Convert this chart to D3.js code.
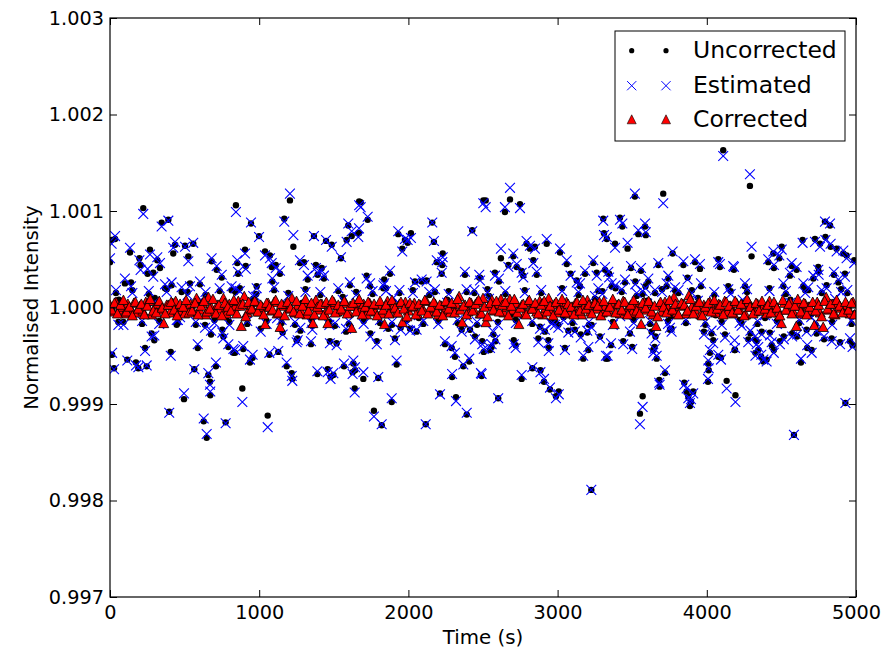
<!DOCTYPE html>
<html><head><meta charset="utf-8">
<script src="https://cdn.jsdelivr.net/npm/d3@7"></script>
<style>body{margin:0;background:#fff} text{font-family:"DejaVu Sans",sans-serif;fill:#000}</style>
</head><body><svg id="c" width="893" height="652"></svg>
<script>
// ---------- DATA ----------
const xTicks = [0, 1000, 2000, 3000, 4000, 5000];
const yTicks = [0.997, 0.998, 0.999, 1.000, 1.001, 1.002, 1.003];
const seriesNames = ["Uncorrected", "Estimated", "Corrected"];

// sample times (s) shared by the uncorrected and estimated series
const sampleTimes = [
 223,346,391,11,34,134,268,424,436,503, 558,525,197,205,317,335,252,290,681,715,
 749,100,141,369,413,480,536,603,0,815, 56,447,637,677,753,279,297,760,793,827,
 235,588,407,14,116,174,190,246,565,710, 659,670,27,672,496,397,628,775,648,
 1206,844,945,1168,999,1229,1367,1448,1486,1586, 1620,1664,1597,1670,905,853,910,858,1039,1072,
 1084,1111,1139,1273,1300,1380,1419,1392,1434,1325, 1548,1608,983,1088,841,1010,1157,1276,1251,1258,
 1356,1347,1508,1582,1474,1519,838,893,938,956, 1068,1128,1184,1218,1222,1390,1459,1478,1497,1568,
 1631,1626,1640,887,1057,
 1680,1727,1669,1932,2017,1977,1995,1959,2160,2171, 2230,2190,2227,2223,2428,2502,2379,2480,1720,1838,
 1877,1743,1832,2044,2089,2122,2178,2442,1745,1788, 1865,1910,1948,2011,2055,2245,2290,2312,2357,2413,
 2446,2495,1921,2408,2368,2293,2486,1642,1698,1798, 2212,2319,2391,1888,1769,1821,2116,
 2681,2518,2647,2748,3306,3311,2792,2815,2848,2927, 2620,2703,2670,2726,2759,2837,2860,3016,3061,3087,
 3184,3128,3150,3239,3262,3318,3340,2580,2607,2475, 2770,3273,2882,2915,2938,2982,3005,3072,3116,3155,
 3199,3228,3284,2569,2583,2558,2547,2505,2706,2719, 2871,2941,3049,3206,3172,3324,2491,2759,2831,2885,
 2909,2949,3008,2989,2602,3226,
 4110,3518,3708,3418,3434,3586,3541,3591,3385,3469, 3330,3771,3675,3492,3559,3843,3921,3954,4077,4088,
 4177,3345,3362,3388,3452,3521,3589,3608,3742,3731, 3787,3871,3653,3530,3961,4144,3630,3656,3753,3764,
 3485,3358,3440,3500,3650,3641,3664,3335,3981,4032, 4043,4122,4021,4077,4095,4010,4013,4189,3720,3681,
 3684,4008,3849,3865,3909,3876,3894,3887,4133,3570, 3552,4192,
 4289,4792,4826,4300,4642,4725,4795,4759,4830,4870, 4915,4937,4502,4486,4446,4412,4988,4450,4569,4602,
 4557,4513,4747,4750,4852,4926,4882,4714,4680,4647, 4803,4942,4182,4256,4233,4292,4323,4368,4278,4334,
 4345,4326,4423,4435,4449,4490,4516,4379,4401,4365, 4572,4605,4669,4736,4673,4703,4631,4786,4837,4893,
 4960,4977,4186,4584,4929,
 60,160,300,470,610,780,960,1120,1290,1440, 1560,1710,1900,2070,2260,2400,2540,2700,2900,3040,
 3250,3420,3600,3760,3940,4060,4240,4390,4560,4700, 4860,4990,
 40,90,150,215,260,330,380,455,520,575, 640,700,735,800,870,920,980,1050,1100,1150,
 1195,1240,1310,1350,1410,1470,1530,1600,1650,1700, 1760,1810,1850,1890,1940,1990,2030,2100,2140,2200,
 2270,2330,2390,2460,2530,2600,2650,2720,2780,2830, 2890,2960,3030,3100,3140,3210,3300,3370,3430,3510,
 3570,3620,3700,3740,3810,3860,3900,3990,4050,4100, 4160,4220,4270,4340,4420,4470,4530,4620,4660,4730,
 4770,4840,4900,4970
];

const uncorrectedValues = [
 1.00103,1.00088,1.00091,1.00070,1.00071,1.00057,1.00060,1.00056,1.00065,1.00064,
 1.00066,1.00053,1.00051,1.00044,1.00049,1.00041,1.00035,1.00036,1.00048,1.00039,
 1.00031,1.00025,1.00026,1.00020,1.00023,1.00016,1.00025,1.00024,1.00047,1.00018,
 0.99985,0.99982,0.99982,0.99972,0.99977,0.99973,0.99966,0.99970,0.99959,0.99953,
 0.99958,0.99958,0.99954,0.99951,0.99946,0.99943,0.99937,0.99939,0.99936,0.99939,
 0.99930,0.99923,0.99937,0.99909,0.99905,0.99892,0.99882,0.99881,0.99865,
 1.00111,1.00106,1.00087,1.00092,1.00074,1.00063,1.00074,1.00069,1.00065,1.00070,
 1.00074,1.00077,1.00085,1.00110,1.00060,1.00046,1.00043,1.00035,1.00058,1.00054,
 1.00042,1.00044,1.00035,1.00046,1.00047,1.00044,1.00041,1.00034,1.00030,1.00029,
 1.00051,1.00023,1.00022,1.00027,1.00016,0.99978,0.99974,0.99976,0.99966,0.99968,
 0.99981,0.99962,0.99981,0.99975,0.99965,0.99963,0.99953,0.99957,0.99943,0.99948,
 0.99951,0.99954,0.99939,0.99932,0.99926,0.99931,0.99936,0.99928,0.99930,0.99939,
 0.99942,0.99933,0.99916,0.99916,0.99888,
 1.00109,1.00091,1.00077,1.00076,1.00077,1.00070,1.00067,1.00061,1.00088,1.00068,
 1.00056,1.00047,1.00044,1.00035,1.00080,1.00111,1.00034,1.00031,1.00033,1.00029,
 1.00035,1.00022,1.00020,1.00027,1.00027,1.00028,1.00016,1.00015,0.99973,0.99965,
 0.99978,0.99968,0.99979,0.99978,0.99975,0.99962,0.99958,0.99949,0.99977,0.99977,
 0.99970,0.99965,0.99941,0.99944,0.99939,0.99928,0.99930,0.99935,0.99926,0.99927,
 0.99911,0.99907,0.99889,0.99902,0.99893,0.99878,0.99879,
 1.00112,1.00111,1.00099,1.00107,1.00092,1.00077,1.00066,1.00061,1.00063,1.00066,
 1.00051,1.00053,1.00044,1.00042,1.00038,1.00049,1.00034,1.00057,1.00045,1.00035,
 1.00035,1.00028,1.00022,1.00046,1.00036,1.00039,1.00035,1.00036,1.00027,1.00031,
 1.00033,1.00017,0.99980,0.99975,0.99966,0.99985,0.99982,0.99976,0.99977,0.99972,
 0.99974,0.99982,0.99970,0.99972,0.99965,0.99959,0.99956,0.99954,0.99966,0.99961,
 0.99968,0.99958,0.99958,0.99956,0.99947,0.99947,0.99929,0.99926,0.99937,0.99935,
 0.99923,0.99915,0.99913,0.99908,0.99906,0.99811,
 1.00163,1.00115,1.00118,1.00093,1.00084,1.00084,1.00076,1.00075,1.00066,1.00061,
 1.00071,1.00056,1.00044,1.00041,1.00038,1.00044,1.00047,1.00040,1.00050,1.00042,
 1.00040,1.00035,1.00022,1.00020,1.00026,1.00027,1.00022,1.00027,1.00030,1.00022,
 1.00018,1.00031,1.00015,1.00012,1.00022,1.00022,0.99975,0.99970,0.99977,0.99978,
 0.99973,0.99961,0.99965,0.99959,0.99959,0.99956,0.99947,0.99947,0.99975,0.99973,
 0.99966,0.99972,0.99953,0.99949,0.99948,0.99942,0.99935,0.99956,0.99932,0.99925,
 0.99918,0.99923,0.99922,0.99913,0.99913,0.99908,0.99902,0.99898,0.99924,0.99908,
 0.99890,0.99909,
 1.00126,1.00089,1.00085,1.00053,1.00070,1.00071,1.00073,1.00066,1.00063,1.00061,
 1.00056,1.00054,1.00063,1.00051,1.00056,1.00047,1.00049,1.00041,1.00043,1.00039,
 1.00033,1.00022,1.00042,1.00037,1.00034,1.00035,1.00026,1.00030,1.00018,1.00022,
 1.00023,1.00015,1.00039,1.00022,0.99984,0.99973,0.99967,0.99975,0.99967,0.99965,
 0.99956,0.99953,0.99974,0.99961,0.99956,0.99965,0.99970,0.99944,0.99946,0.99949,
 0.99973,0.99970,0.99977,0.99973,0.99958,0.99956,0.99943,0.99967,0.99968,0.99964,
 0.99965,0.99961,0.99956,0.99868,0.99901,
 1.00008,0.99992,1.00010,0.99994,1.00004,0.99990,1.00009,0.99993,1.00005,0.99991,
 1.00011,0.99995,1.00006,0.99989,1.00008,0.99992,1.00012,0.99993,1.00006,0.99990,
 1.00009,0.99994,1.00007,0.99991,1.00010,0.99992,1.00005,0.99989,1.00008,0.99993,
 1.00006,0.99994,
 1.00015,0.99985,1.00018,0.99983,1.00014,0.99986,1.00019,0.99984,1.00016,0.99982,
 1.00013,0.99987,1.00017,0.99985,1.00020,0.99983,1.00014,0.99986,1.00018,0.99984,
 1.00015,0.99982,1.00019,0.99987,1.00013,0.99985,1.00017,0.99983,1.00016,0.99986,
 1.00014,0.99984,1.00020,0.99982,1.00015,0.99987,1.00018,0.99983,1.00013,0.99986,
 1.00017,0.99984,1.00016,0.99982,1.00019,0.99985,1.00014,0.99987,1.00018,0.99983,
 1.00015,0.99986,1.00020,0.99984,1.00013,0.99982,1.00017,0.99985,1.00016,0.99987,
 1.00014,0.99983,1.00019,0.99986,1.00015,0.99984,1.00018,0.99982,1.00013,0.99985,
 1.00017,0.99987,1.00016,0.99983,1.00020,0.99986,1.00014,0.99984,1.00018,0.99982,
 1.00015,0.99985,1.00019,0.99983
];

const estimatedValues = [
 1.00097,1.00084,1.00090,1.00066,1.00074,1.00062,1.00055,1.00062,1.00068,1.00063,
 1.00067,1.00048,1.00049,1.00039,1.00052,1.00046,1.00040,1.00032,1.00051,1.00043,
 1.00034,1.00030,1.00022,1.00024,1.00026,1.00021,1.00022,1.00027,1.00051,1.00022,
 0.99982,0.99987,0.99979,0.99976,0.99974,0.99970,0.99971,0.99968,0.99962,0.99957,
 0.99955,0.99962,0.99950,0.99953,0.99945,0.99940,0.99938,0.99940,0.99936,0.99943,
 0.99932,0.99920,0.99936,0.99913,0.99911,0.99891,0.99885,0.99880,0.99869,
 1.00118,1.00099,1.00088,1.00089,1.00073,1.00075,1.00074,1.00070,1.00063,1.00068,
 1.00079,1.00073,1.00087,1.00106,1.00056,1.00049,1.00040,1.00037,1.00054,1.00051,
 1.00046,1.00041,1.00038,1.00049,1.00044,1.00041,1.00038,1.00036,1.00033,1.00033,
 1.00052,1.00026,1.00020,1.00030,1.00020,0.99975,0.99972,0.99979,0.99964,0.99966,
 0.99977,0.99965,0.99984,0.99978,0.99963,0.99961,0.99956,0.99960,0.99946,0.99951,
 0.99953,0.99955,0.99943,0.99929,0.99924,0.99934,0.99933,0.99926,0.99932,0.99942,
 0.99945,0.99931,0.99912,0.99902,0.99876,
 1.00104,1.00094,1.00082,1.00079,1.00072,1.00071,1.00070,1.00058,1.00088,1.00069,
 1.00052,1.00049,1.00047,1.00036,1.00079,1.00108,1.00037,1.00028,1.00030,1.00025,
 1.00038,1.00025,1.00023,1.00026,1.00029,1.00027,1.00019,1.00018,0.99970,0.99962,
 0.99980,0.99966,0.99977,0.99976,0.99977,0.99965,0.99960,0.99953,0.99975,0.99978,
 0.99967,0.99962,0.99945,0.99947,0.99941,0.99931,0.99932,0.99938,0.99933,0.99928,
 0.99910,0.99903,0.99891,0.99906,0.99887,0.99879,0.99879,
 1.00124,1.00104,1.00104,1.00103,1.00090,1.00075,1.00069,1.00064,1.00061,1.00071,
 1.00061,1.00056,1.00042,1.00045,1.00036,1.00046,1.00037,1.00061,1.00049,1.00033,
 1.00038,1.00026,1.00025,1.00049,1.00033,1.00042,1.00037,1.00033,1.00030,1.00034,
 1.00031,1.00020,0.99978,0.99977,0.99963,0.99982,0.99979,0.99974,0.99975,0.99969,
 0.99976,0.99979,0.99968,0.99975,0.99967,0.99962,0.99958,0.99957,0.99962,0.99958,
 0.99964,0.99955,0.99956,0.99959,0.99950,0.99950,0.99931,0.99930,0.99938,0.99933,
 0.99926,0.99917,0.99910,0.99906,0.99906,0.99811,
 1.00157,1.00118,1.00108,1.00091,1.00087,1.00087,1.00080,1.00078,1.00062,1.00067,
 1.00073,1.00058,1.00046,1.00043,1.00041,1.00048,1.00050,1.00045,1.00047,1.00045,
 1.00043,1.00031,1.00025,1.00023,1.00029,1.00024,1.00020,1.00030,1.00033,1.00025,
 1.00021,1.00029,1.00018,1.00015,1.00025,1.00019,0.99973,0.99968,0.99979,0.99975,
 0.99975,0.99963,0.99962,0.99957,0.99957,0.99953,0.99950,0.99950,0.99972,0.99976,
 0.99963,0.99969,0.99956,0.99951,0.99946,0.99945,0.99937,0.99958,0.99935,0.99922,
 0.99920,0.99926,0.99920,0.99916,0.99911,0.99906,0.99905,0.99901,0.99916,0.99897,
 0.99879,0.99902,
 1.00138,1.00089,1.00087,1.00063,1.00067,1.00068,1.00070,1.00063,1.00066,1.00058,
 1.00059,1.00051,1.00060,1.00054,1.00058,1.00050,1.00046,1.00044,1.00046,1.00042,
 1.00036,1.00025,1.00039,1.00034,1.00037,1.00032,1.00029,1.00033,1.00021,1.00025,
 1.00020,1.00018,1.00042,1.00025,0.99981,0.99976,0.99970,0.99972,0.99964,0.99962,
 0.99959,0.99950,0.99971,0.99964,0.99953,0.99962,0.99967,0.99946,0.99944,0.99951,
 0.99970,0.99972,0.99975,0.99976,0.99961,0.99953,0.99947,0.99970,0.99965,0.99962,
 0.99968,0.99959,0.99966,0.99868,0.99901,
 1.00005,0.99995,1.00006,0.99990,1.00008,0.99993,1.00012,0.99989,1.00002,0.99994,
 1.00008,0.99998,1.00010,0.99992,1.00005,0.99989,1.00009,0.99996,1.00003,0.99987,
 1.00012,0.99991,1.00004,0.99994,1.00007,0.99996,1.00008,0.99992,1.00005,0.99990,
 1.00009,0.99991,
 1.00018,0.99982,1.00015,0.99986,1.00017,0.99983,1.00016,0.99987,1.00013,0.99985,
 1.00016,0.99984,1.00020,0.99982,1.00017,0.99986,1.00011,0.99983,1.00021,0.99987,
 1.00012,0.99985,1.00016,0.99984,1.00016,0.99982,1.00020,0.99986,1.00013,0.99983,
 1.00017,0.99987,1.00017,0.99985,1.00018,0.99984,1.00015,0.99986,1.00016,0.99983,
 1.00014,0.99987,1.00019,0.99985,1.00016,0.99982,1.00017,0.99984,1.00015,0.99986,
 1.00018,0.99983,1.00017,0.99987,1.00016,0.99985,1.00014,0.99982,1.00019,0.99984,
 1.00017,0.99986,1.00016,0.99983,1.00018,0.99987,1.00015,0.99985,1.00016,0.99982,
 1.00014,0.99984,1.00019,0.99986,1.00017,0.99983,1.00017,0.99987,1.00015,0.99985,
 1.00018,0.99982,1.00016,0.99986
];

const correctedTimes = [
 0,20,40,60,80,100,120,140,160,180, 200,220,240,260,280,300,320,340,360,380,
 400,420,440,460,480,500,520,540,560,580, 600,620,640,660,680,700,720,740,760,780,
 800,820,840,860,880,900,920,940,960,980, 1000,1020,1040,1060,1080,1100,1120,1140,1160,1180,
 1200,1220,1240,1260,1280,1300,1320,1340,1360,1380, 1400,1420,1440,1460,1480,1500,1520,1540,1560,1580,
 1600,1620,1640,1660,1680,1700,1720,1740,1760,1780, 1800,1820,1840,1860,1880,1900,1920,1940,1960,1980,
 2000,2020,2040,2060,2080,2100,2120,2140,2160,2180, 2200,2220,2240,2260,2280,2300,2320,2340,2360,2380,
 2400,2420,2440,2460,2480,2500,2520,2540,2560,2580, 2600,2620,2640,2660,2680,2700,2720,2740,2760,2780,
 2800,2820,2840,2860,2880,2900,2920,2940,2960,2980, 3000,3020,3040,3060,3080,3100,3120,3140,3160,3180,
 3200,3220,3240,3260,3280,3300,3320,3340,3360,3380, 3400,3420,3440,3460,3480,3500,3520,3540,3560,3580,
 3600,3620,3640,3660,3680,3700,3720,3740,3760,3780, 3800,3820,3840,3860,3880,3900,3920,3940,3960,3980,
 4000,4020,4040,4060,4080,4100,4120,4140,4160,4180, 4200,4220,4240,4260,4280,4300,4320,4340,4360,4380,
 4400,4420,4440,4460,4480,4500,4520,4540,4560,4580, 4600,4620,4640,4660,4680,4700,4720,4740,4760,4780,
 4800,4820,4840,4860,4880,4900,4920,4940,4960,4980,
 10,30,50,70,90,110,130,150,170,190, 210,230,250,270,290,310,330,350,370,390,
 410,430,450,470,490,510,530,550,570,590, 610,630,650,670,690,710,730,750,770,790,
 810,830,850,870,890,910,930,950,970,990, 1010,1030,1050,1070,1090,1110,1130,1150,1170,1190,
 1210,1230,1250,1270,1290,1310,1330,1350,1370,1390, 1410,1430,1450,1470,1490,1510,1530,1550,1570,1590,
 1610,1630,1650,1670,1690,1710,1730,1750,1770,1790, 1810,1830,1850,1870,1890,1910,1930,1950,1970,1990,
 2010,2030,2050,2070,2090,2110,2130,2150,2170,2190, 2210,2230,2250,2270,2290,2310,2330,2350,2370,2390,
 2410,2430,2450,2470,2490,2510,2530,2550,2570,2590, 2610,2630,2650,2670,2690,2710,2730,2750,2770,2790,
 2810,2830,2850,2870,2890,2910,2930,2950,2970,2990, 3010,3030,3050,3070,3090,3110,3130,3150,3170,3190,
 3210,3230,3250,3270,3290,3310,3330,3350,3370,3390, 3410,3430,3450,3470,3490,3510,3530,3550,3570,3590,
 3610,3630,3650,3670,3690,3710,3730,3750,3770,3790, 3810,3830,3850,3870,3890,3910,3930,3950,3970,3990,
 4010,4030,4050,4070,4090,4110,4130,4150,4170,4190, 4210,4230,4250,4270,4290,4310,4330,4350,4370,4390,
 4410,4430,4450,4470,4490,4510,4530,4550,4570,4590, 4610,4630,4650,4670,4690,4710,4730,4750,4770,4790,
 4810,4830,4850,4870,4890,4910,4930,4950,4970,4990
];

const correctedValues = [
 1.00003,0.99996,1.00006,0.99998,1.00001,0.99994,1.00004,0.99999,1.00005,0.99995,
 1.00002,0.99997,1.00006,1.00007,0.99993,1.00000,1.00004,0.99998,0.99984,1.00003,
 0.99995,1.00005,1.00007,0.99997,1.00001,0.99994,1.00002,1.00004,0.99996,1.00010,
 0.99998,1.00005,0.99993,1.00011,1.00000,0.99996,1.00003,0.99999,1.00010,0.99994,
 1.00004,0.99997,1.00002,1.00007,0.99981,1.00012,0.99995,1.00003,0.99998,1.00006,
 0.99996,1.00001,0.99983,1.00005,0.99997,1.00006,0.99994,0.99980,1.00002,1.00004,
 0.99999,1.00010,0.99995,1.00003,0.99997,1.00005,0.99993,1.00002,0.99984,1.00008,
 0.99998,1.00004,0.99994,0.99984,1.00003,1.00006,0.99996,1.00001,0.99997,1.00005,
 0.99995,0.99979,1.00002,1.00006,0.99998,1.00004,0.99993,1.00005,1.00000,0.99996,
 1.00003,0.99994,0.99983,1.00007,0.99999,1.00002,0.99995,1.00004,0.99985,1.00006,
 0.99997,1.00001,1.00005,0.99994,1.00003,0.99998,1.00007,0.99996,1.00000,1.00004,
 0.99993,1.00002,0.99997,1.00006,0.99995,1.00001,1.00004,1.00012,0.99985,1.00003,
 0.99996,1.00005,0.99998,1.00006,0.99994,1.00010,0.99985,1.00002,1.00008,0.99997,
 1.00004,1.00009,0.99995,1.00001,1.00009,0.99998,1.00005,0.99983,1.00003,0.99994,
 1.00006,0.99999,1.00002,0.99996,1.00007,0.99993,1.00000,1.00010,0.99997,1.00004,
 0.99995,1.00003,0.99998,1.00006,0.99994,1.00001,1.00005,0.99997,0.99993,1.00002,
 1.00008,0.99996,1.00004,0.99999,1.00006,0.99995,1.00002,0.99998,1.00005,0.99983,
 1.00003,0.99994,1.00007,0.99997,1.00001,0.99995,1.00004,1.00002,0.99983,1.00006,
 0.99998,1.00005,0.99993,0.99981,1.00003,0.99996,1.00006,1.00000,0.99997,1.00011,
 0.99995,1.00002,1.00004,0.99994,1.00013,1.00001,0.99998,1.00005,0.99993,1.00003,
 0.99997,1.00006,1.00000,0.99995,1.00004,0.99999,1.00007,0.99996,1.00002,0.99994,
 1.00005,0.99998,1.00003,0.99993,1.00006,1.00001,0.99996,1.00004,0.99997,1.00002,
 0.99994,1.00007,0.99999,1.00003,0.99995,0.99984,1.00005,0.99998,1.00006,0.99996,
 0.99981,1.00002,0.99994,1.00004,1.00001,0.99997,0.99982,1.00006,0.99995,0.99980,
 1.00011,0.99998,1.00004,0.99993,1.00005,1.00000,0.99996,1.00003,0.99994,1.00006,
 0.99998,1.00005,0.99994,1.00003,1.00008,0.99996,1.00001,0.99992,1.00006,0.99999,
 1.00004,0.99993,1.00002,1.00009,0.99997,0.99995,1.00007,1.00000,0.99994,1.00003,
 1.00006,0.99998,0.99992,1.00004,1.00001,1.00008,0.99995,0.99997,1.00005,0.99993,
 1.00002,1.00007,0.99996,0.99999,1.00009,0.99994,1.00003,0.99992,1.00005,1.00001,
 0.99997,1.00008,0.99994,1.00002,1.00004,0.99991,1.00006,0.99999,1.00007,0.99996,
 1.00003,0.99993,1.00005,1.00001,0.99998,1.00008,0.99995,1.00004,0.99992,1.00006,
 1.00000,0.99996,1.00007,0.99994,1.00002,1.00009,0.99997,1.00005,0.99993,1.00001,
 1.00004,0.99992,1.00006,0.99998,1.00008,0.99995,1.00003,0.99999,1.00007,0.99994,
 1.00002,1.00005,0.99996,1.00009,0.99993,1.00001,1.00006,0.99997,1.00004,0.99992,
 1.00007,0.99998,1.00003,0.99994,1.00008,1.00000,0.99995,1.00006,0.99999,0.99991,
 1.00005,1.00002,0.99993,1.00004,0.99997,1.00008,0.99994,1.00001,1.00006,0.99996,
 1.00003,0.99992,1.00007,0.99999,1.00005,0.99995,1.00009,0.99998,1.00002,0.99993,
 1.00006,0.99997,1.00004,1.00008,0.99994,1.00001,0.99991,1.00005,0.99998,1.00007,
 0.99996,1.00003,1.00006,0.99992,1.00002,1.00009,0.99995,1.00000,1.00004,0.99993,
 1.00008,0.99999,1.00005,0.99994,1.00003,1.00007,0.99996,1.00002,0.99992,1.00006,
 0.99998,1.00009,0.99995,1.00004,1.00001,0.99993,1.00006,0.99997,1.00008,0.99999,
 1.00003,0.99994,1.00005,1.00002,0.99992,1.00007,0.99996,1.00001,1.00009,0.99995,
 1.00004,0.99998,1.00006,0.99993,1.00003,1.00008,0.99997,0.99994,1.00005,1.00000,
 1.00007,0.99996,1.00002,0.99991,1.00006,1.00001,0.99995,1.00008,0.99998,1.00004,
 0.99993,1.00005,1.00003,0.99997,1.00009,0.99994,1.00002,1.00006,0.99992,1.00001,
 1.00005,0.99996,1.00008,0.99999,1.00003,0.99993,1.00006,1.00002,0.99995,1.00007,
 0.99998,1.00004,0.99992,1.00009,1.00001,0.99994,1.00005,0.99997,1.00007,0.99999,
 1.00003,0.99995,1.00006,1.00000,0.99992,1.00008,0.99998,1.00004,0.99994,1.00002,
 1.00009,0.99996,1.00005,0.99993,1.00001,1.00006,0.99997,1.00003,0.99991,1.00007,
 0.99999,1.00004,0.99994,1.00008,1.00002,0.99995,1.00006,0.99998,1.00005,0.99993
];

// ---------- CHART ----------
const svg = d3.select("#c");
svg.append("rect").attr("width", 893).attr("height", 652).attr("fill", "#fff");

const x = d3.scaleLinear().domain([0, 5000]).range([110, 856]);
const y = d3.scaleLinear().domain([0.997, 1.003]).range([597, 18]);

svg.append("defs").append("clipPath").attr("id", "clip")
  .append("rect").attr("x", 110).attr("y", 18).attr("width", 746).attr("height", 579);

const plot = svg.append("g").attr("clip-path", "url(#clip)");

const n = Math.min(sampleTimes.length, uncorrectedValues.length, estimatedValues.length);
const uncData = sampleTimes.slice(0, n).map((t, i) => ({t, v: uncorrectedValues[i]}));
const estData = sampleTimes.slice(0, n).map((t, i) => ({t, v: estimatedValues[i]}));
const m = Math.min(correctedTimes.length, correctedValues.length);
const corData = correctedTimes.slice(0, m).map((t, i) => ({t, v: correctedValues[i]}));

const crossPath = s => `M${-s},${-s}L${s},${s}M${-s},${s}L${s},${-s}`;
const triPath = (w, h) => `M0,${-h}L${w},${h}L${-w},${h}Z`;

plot.append("g").selectAll("circle").data(uncData).join("circle")
  .attr("cx", d => x(d.t)).attr("cy", d => y(d.v)).attr("r", 3.2).attr("fill", "#000");

plot.append("g").selectAll("path").data(estData).join("path")
  .attr("transform", d => `translate(${x(d.t)},${y(d.v)})`)
  .attr("d", crossPath(4.9)).attr("stroke", "#0000ff").attr("stroke-width", 1.1).attr("fill", "none");

plot.append("g").selectAll("path").data(corData).join("path")
  .attr("transform", d => `translate(${x(d.t)},${y(d.v)})`)
  .attr("d", triPath(5, 4.7)).attr("fill", "#ff0000").attr("stroke", "#000").attr("stroke-width", 0.8);

// axes
const fs = "19.3px";
const gB = svg.append("g").attr("transform", "translate(0,597)")
  .call(d3.axisBottom(x).tickValues(xTicks).tickFormat(d3.format("d")).tickSizeInner(-7).tickSizeOuter(0).tickPadding(8));
const gT = svg.append("g").attr("transform", "translate(0,18)")
  .call(d3.axisTop(x).tickValues(xTicks).tickFormat("").tickSizeInner(-7).tickSizeOuter(0));
const gL = svg.append("g").attr("transform", "translate(110,0)")
  .call(d3.axisLeft(y).tickValues(yTicks).tickFormat(d3.format(".3f")).tickSizeInner(-7).tickSizeOuter(0).tickPadding(6));
const gR = svg.append("g").attr("transform", "translate(856,0)")
  .call(d3.axisRight(y).tickValues(yTicks).tickFormat("").tickSizeInner(-7).tickSizeOuter(0));
[gB, gT, gL, gR].forEach(g => {
  g.select(".domain").remove();
  g.selectAll(".tick line").attr("stroke", "#000").attr("stroke-width", 1);
  g.selectAll("text").attr("font-family", "DejaVu Sans").attr("font-size", fs).attr("fill", "#000");
});

svg.append("rect").attr("x", 110).attr("y", 18).attr("width", 746).attr("height", 579)
  .attr("fill", "none").attr("stroke", "#000").attr("stroke-width", 1.2);

svg.append("text").attr("x", 483).attr("y", 644).attr("text-anchor", "middle")
  .attr("font-size", "19.8px").text("Time (s)");
svg.append("text").attr("transform", "translate(38,307.5) rotate(-90)").attr("text-anchor", "middle")
  .attr("font-size", "19.8px").text("Normalised Intensity");

// legend
const leg = svg.append("g");
leg.append("rect").attr("x", 615).attr("y", 31).attr("width", 230).attr("height", 110)
  .attr("fill", "#fff").attr("stroke", "#000").attr("stroke-width", 1);
const rows = [50.7, 85.7, 119.3];
const mx = [631.7, 666];
seriesNames.forEach((name, i) => {
  const ry = rows[i];
  mx.forEach(px => {
    if (i === 0) leg.append("circle").attr("cx", px).attr("cy", ry).attr("r", 2.6).attr("fill", "#000");
    if (i === 1) leg.append("path").attr("transform", `translate(${px},${ry})`).attr("d", crossPath(4.6))
      .attr("stroke", "#0000ff").attr("stroke-width", 1).attr("fill", "none");
    if (i === 2) leg.append("path").attr("transform", `translate(${px},${ry})`).attr("d", triPath(4.5, 4.5))
      .attr("fill", "#ff0000").attr("stroke", "#000").attr("stroke-width", 0.6);
  });
  leg.append("text").attr("x", 693).attr("y", ry + 7.6).attr("font-size", "23.5px").text(name);
});
</script></body></html>
